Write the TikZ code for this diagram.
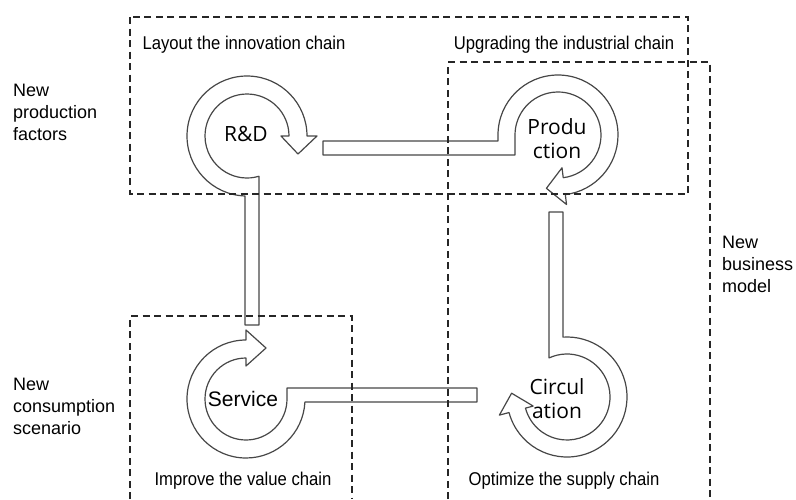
\documentclass[tikz,border=0pt]{standalone}
\usepackage{fontspec}
\setmainfont{Liberation Sans}
\newfontfamily\narrowsans[FakeStretch=0.9]{Liberation Sans}
\newfontfamily\hubfont{Open Sans}

\tikzset{
  flow/.style={draw=black!72, line width=1.2pt, fill=white, line join=round},
  zone/.style={draw=black!85, line width=1.5pt, dash pattern=on 7pt off 4.5pt},
  chainlabel/.style={font=\narrowsans\fontsize{18.5}{22}\selectfont, inner sep=0pt},
  sidelabel/.style={font=\fontsize{18}{22}\selectfont, align=left, anchor=west, inner sep=0pt},
  hublabel/.style={font=\hubfont\fontsize{21}{24}\selectfont, align=center, inner sep=0pt},
}

\begin{document}
\begin{tikzpicture}[x=1pt,y=-1pt]
\useasboundingbox (0,0) rectangle (796,499);

% R&D: circular arrow, tail bar running down towards Service
\begin{scope}[shift={(247,136)}]
\draw[flow] (-2,189) -- (92:60) arc[start angle=92,end angle=360,radius=60]
  -- (0:70) -- (51,18) -- (0:34) -- (0:42)
  arc[start angle=360,end angle=73.4,radius=42] -- (12,189) -- cycle;
\end{scope}

% Production: tail bar coming from R&D
\begin{scope}[shift={(558,135)}]
\draw[flow] (-235,6) -- (-60,6) -- (180:60) arc[start angle=180,end angle=443,radius=60]
  -- (443:70) -- (-11.6,53.3) -- (443:33) -- (443:43)
  arc[start angle=443,end angle=180,radius=43] -- (-43,20) -- (-235,20) -- cycle;
\end{scope}

% Circulation: tail bar coming down from Production
\begin{scope}[shift={(567,397)}]
\draw[flow] (-18,-185) -- (245.3:43) arc[start angle=245.3,end angle=525,radius=43]
  -- (525:35) -- (-55.4,-3.8) -- (525:70) -- (525:60)
  arc[start angle=525,end angle=266.2,radius=60] -- (-4,-185) -- cycle;
\end{scope}

% Service: tail bar coming from Circulation
\begin{scope}[shift={(246,399)}]
\draw[flow] (231,-11) -- (41,-11) -- (0:41) arc[start angle=0,end angle=270,radius=41]
  -- (270:33) -- (20,-51) -- (270:69) -- (270:59)
  arc[start angle=270,end angle=2.9,radius=59] -- (231,3) -- cycle;
\end{scope}

% hub labels
\node[hublabel] (rd) at (246,134) {R\&D};
\node[hublabel] (prod) at (557,139) {Produ\\ction};
\node[hublabel] (circ) at (557,399) {Circul\\ation};
\node[font=\fontsize{21}{24}\selectfont, inner sep=0pt] (serv) at (243,399) {Service};

% dashed zones
\draw[zone] (130,17) rectangle (688,194);
\draw[zone] (448,499) -- (448,62) -- (710,62) -- (710,499);
\draw[zone] (130,499) -- (130,316) -- (352,316) -- (352,499);

% zone captions
\node[chainlabel] (innov) at (244,45) {Layout the innovation chain};
\node[chainlabel] (indus) at (564,45) {Upgrading the industrial chain};
\node[chainlabel] (value) at (243,481) {Improve the value chain};
\node[chainlabel] (supply) at (564,481) {Optimize the supply chain};

% side captions
\node[sidelabel] (prodfac) at (13,112) {New\\production\\factors};
\node[sidelabel] (consum) at (13,406) {New\\consumption\\scenario};
\node[sidelabel] (busmod) at (722,264) {New\\business\\model};
\end{tikzpicture}
\end{document}
